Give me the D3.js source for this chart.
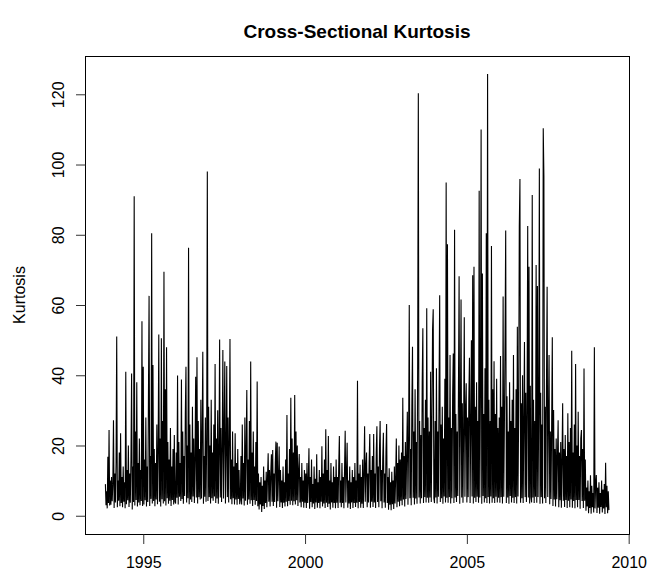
<!DOCTYPE html>
<html>
<head>
<meta charset="utf-8">
<title>Cross-Sectional Kurtosis</title>
<script src="https://cdn.jsdelivr.net/npm/d3@7"></script>
<style>
  body { margin: 0; background: #fff; }
  text { font-family: "Liberation Sans", Arial, Helvetica, sans-serif; fill: #000; }
</style>
</head>
<body>
<script>
// each list holds the readings for one calendar year (decimal-year start/end below)
var segStart = [1993.83, 1994, 1995, 1996, 1997, 1998, 1999, 2000, 2001, 2002, 2003, 2004, 2005, 2006, 2007, 2008, 2009];
var segEnd   = [1994, 1995, 1996, 1997, 1998, 1999, 2000, 2001, 2002, 2003, 2004, 2005, 2006, 2007, 2008, 2009, 2009.39];

var k1993 = [9, 3, 7, 2.1, 16.8, 3.6, 24.4, 2.9, 10];
var k1994 = [3.1, 11, 4.1, 9, 27.2, 2.2, 12, 3.8, 15, 51, 2.4, 10, 4.3, 18, 2.7, 23.5, 3.6, 11, 2.4, 14,
             4, 9.5, 2.1, 41, 3.3, 13, 4.4, 20, 2.5, 12, 3.7, 16, 40.5, 1.8, 14, 3.9, 91, 2.9, 24, 4.5,
             38, 2.6, 15, 3.8, 22, 3, 13, 4.2, 55.4, 2.8];
var k1995 = [42.4, 3.2, 16, 4.4, 28, 2.6, 14, 3.9, 33, 62.6, 2.8, 17, 4.8, 80.4, 3.5, 42.9, 4.2, 19, 2.7, 15,
             4.6, 26, 3.3, 18, 51.6, 4, 22, 2.6, 50.5, 4.7, 27, 3.5, 69.5, 4.1, 36, 2.9, 48, 5, 21, 3.4,
             16, 4.3, 25, 2.8, 14, 4.5, 19, 3.2, 23, 4];
var k1996 = [3.5, 18, 5.1, 39.9, 3.2, 21, 5.4, 15, 4.2, 38.8, 4.8, 24, 3.4, 17, 5.6, 29, 42.4, 3.8, 20, 5,
             76.3, 3.3, 26, 4.6, 18, 3.9, 31, 5.5, 22, 3.6, 16, 39.6, 5.2, 45.1, 3.5, 27, 5.3, 19, 4.6, 33,
             4.9, 23, 46.7, 3.4, 17, 5.4, 28, 4, 21, 98];
var k1997 = [4.2, 31, 5.3, 20, 3.5, 33, 5, 18, 4.3, 26, 5.5, 43.2, 3.6, 22, 4.9, 30, 3.4, 17, 50.2, 5.2,
             25, 3.9, 19, 47.2, 4.9, 23, 43.9, 3.5, 18, 42.6, 5.3, 28, 3.8, 21, 50.3, 4.7, 16, 3.3, 24, 5,
             14, 3.2, 23.5, 4.6, 15, 3.1, 19, 4.8, 13, 3.3];
var k1998 = [4.5, 17, 3.2, 26, 4.9, 15, 2.9, 28, 4.3, 19, 35.8, 3.1, 16, 4.6, 27, 3.4, 43.9, 4.4, 18, 2.8,
             24, 4.5, 14, 3.1, 21, 4.2, 38.2, 2.7, 12, 1.8, 9.5, 3.2, 11, 1.1, 8.5, 2.8, 14, 1.9, 10, 3.6,
             12.5, 2.4, 11, 17.8, 4, 13, 2.6, 12, 17.5, 4];
var k1999 = [18.7, 2.8, 12, 3.9, 15, 21.1, 2.3, 20.8, 4.1, 11, 19.7, 2.5, 13, 3.8, 10, 2.2, 14, 3.7, 9.5, 2.6,
             16, 4, 28.7, 2.7, 12, 4.2, 19, 3.1, 33.6, 4.3, 22, 3, 18, 4.1, 34.4, 3.2, 24, 4.4, 20, 2.8,
             13, 17.6, 3.8, 11, 2.4, 15, 4, 10, 2.3, 13];
var k2000 = [3.7, 12, 2.2, 15, 3.6, 10, 19.2, 2, 11, 3.9, 16, 2.4, 9, 3.5, 14, 1.9, 10.5, 3.8, 17.5, 2.3,
             9.5, 3.6, 13, 2.1, 11, 4, 19.8, 2.6, 12, 3.5, 16, 2.2, 24.6, 3.7, 13, 2.5, 22.7, 3.4, 10, 1.8,
             15, 3.8, 9.5, 2.3, 14, 3.6, 11, 2.1, 16, 3.7];
var k2001 = [11, 2.2, 14, 22.7, 3.7, 10, 2.4, 15, 3.6, 11, 2.1, 13, 24.2, 3.8, 12, 20.8, 2.3, 10, 3.5, 14,
             1.9, 9.5, 3.8, 13, 2.2, 11, 3.6, 15, 2.5, 10, 3.7, 38.4, 2.1, 12, 3.9, 14.5, 2.3, 11, 3.4, 16,
             2.2, 12, 25.5, 4, 14, 18, 2.4, 12, 3.8, 15];
var k2002 = [23.3, 2.3, 13, 4, 17, 2.5, 23.3, 3.8, 12, 2.2, 18, 25.5, 3.9, 14, 2.4, 19, 27, 4.1, 13, 2.1,
             16, 23.6, 3.8, 12, 2.3, 18, 26.1, 3.6, 11, 1.7, 13.5, 3.1, 9.5, 1.6, 12.5, 3.3, 10, 1.9, 14, 3.5,
             11, 22, 2.4, 15, 4, 20, 2.7, 16, 4.3, 18];
var k2003 = [3, 33.6, 4.6, 17, 2.6, 21, 4.8, 18, 29.6, 3.1, 22, 60, 5, 19, 3, 31, 48.1, 5.1, 24, 3.2,
             36, 4.9, 21, 3.4, 44, 120.3, 5.2, 27, 3.5, 23, 5, 38, 53.4, 3.6, 25, 5.3, 33, 3.8, 59.1, 5.1,
             28, 3.7, 24, 5.2, 41, 3.9, 26, 53.1, 58.8, 5];
var k2004 = [3.6, 27, 5.2, 42, 3.5, 24, 5.4, 35, 62.8, 3.9, 26, 5, 31, 3.4, 22, 5.5, 39, 3.8, 94.9, 5.1,
             77.3, 3.7, 28, 5.3, 45.8, 3.5, 25, 5, 34, 46.2, 3.6, 81.4, 5.2, 29, 3.9, 24, 5.6, 36, 68.2, 3.4,
             27, 61.6, 5.2, 32, 3.7, 25, 56.5, 5.4, 30, 37.7];
var k2005 = [3.8, 28, 5.3, 33, 45, 3.6, 26, 50, 5.5, 68.5, 3.5, 70.9, 5.1, 31, 3.9, 38, 5.4, 27, 3.7, 92.5,
             5.2, 35, 110, 3.4, 69, 5.6, 29, 3.8, 42, 5, 80.4, 3.6, 125.8, 5.3, 33, 3.5, 27, 5.5, 76.8, 3.7,
             36, 5, 44, 3.6, 29, 5.4, 39, 3.8, 25, 5.1];
var k2006 = [28, 3.7, 45.5, 5.3, 31, 3.5, 62.4, 5.4, 26, 50, 81.2, 3.6, 34, 5.2, 24, 3.4, 38, 5.6, 27, 3.8,
             33, 5.1, 45.8, 3.6, 25, 5.3, 36, 3.5, 53.8, 5.5, 29, 82.3, 95.9, 3.7, 32, 5, 40, 3.6, 27, 49.5,
             5.3, 35, 3.9, 30, 82.5, 5.2, 70.9, 3.5, 37, 5.4];
var k2007 = [3.8, 91.3, 5.2, 33, 3.6, 27, 5.4, 71.4, 3.7, 65.4, 5.3, 29, 98.9, 3.4, 35, 5.3, 26, 3.5, 110.3, 96.7,
             5, 31, 3.6, 37, 65.2, 5.3, 28, 45.8, 3.3, 24, 4.8, 26, 50.8, 2.8, 30.1, 4.6, 19, 2.6, 22, 4.7,
             17, 27.2, 2.4, 18, 4.4, 21, 2.3, 16, 32, 4.3];
var k2008 = [19, 2.5, 23, 4.5, 17, 2.2, 29.2, 4.3, 21, 2.4, 25, 4.6, 47, 2.3, 18, 4.2, 26, 2.1, 43.2, 4.5,
             20, 2.4, 29.6, 4.5, 17, 2, 22, 24.4, 4.2, 19, 2.2, 41.9, 4.3, 16, 1.4, 8, 2.6, 10, 0.7, 7,
             2.2, 11.5, 0.6, 8.5, 2.4, 6.5, 0.9, 48, 2.1, 9];
var k2009 = [11.6, 0.8, 8, 2.3, 9.5, 0.6, 6.5, 2.5, 10, 0.9, 7.5, 2.1, 9, 0.5, 15.1, 2.4, 8.5, 0.7, 7, 1.6];

var segments = [k1993, k1994, k1995, k1996, k1997, k1998, k1999, k2000, k2001, k2002,
                k2003, k2004, k2005, k2006, k2007, k2008, k2009];

var xTicks = [1995, 2000, 2005, 2010];
var yTicks = [0, 20, 40, 60, 80, 100, 120];

var W = 651, H = 575;
var plotL = 85, plotR = 629, plotT = 56, plotB = 534;

// spread each year's readings evenly through that year
var series = [];
segments.forEach(function(vals, s) {
  var n = (s == segments.length - 1) ? vals.length - 1 : vals.length;
  vals.forEach(function(v, j) {
    series.push({ t: segStart[s] + (segEnd[s] - segStart[s]) * j / n, v: v });
  });
});

var x = d3.scaleLinear().domain([1993.2, 2010.01]).range([plotL, plotR]);
var y = d3.scaleLinear().domain([-5.2, 130.9]).range([plotB, plotT]);

var svg = d3.select("body").append("svg").attr("width", W).attr("height", H);

var line = d3.line().x(function(d) { return x(d.t); }).y(function(d) { return y(d.v); });

svg.append("path")
  .datum(series)
  .attr("d", line)
  .attr("fill", "none")
  .attr("stroke", "#000")
  .attr("stroke-width", 1.1)
  .attr("stroke-linejoin", "miter");

// box round the plot
svg.append("rect")
  .attr("x", plotL + 0.5).attr("y", plotT + 0.5)
  .attr("width", plotR - plotL).attr("height", plotB - plotT)
  .attr("fill", "none").attr("stroke", "#000").attr("stroke-width", 1);

var xAxis = svg.append("g")
  .attr("transform", "translate(0," + (plotB + 0.5) + ")")
  .call(d3.axisBottom(x).tickValues(xTicks).tickSize(9.5).tickSizeOuter(0).tickFormat(d3.format("d")));
xAxis.select(".domain").remove();
xAxis.selectAll("line").attr("stroke", "#333");
xAxis.selectAll("text").attr("y", 33).attr("dy", 0).style("font-size", "16px");

var yAxis = svg.append("g")
  .attr("transform", "translate(" + (plotL + 0.5) + ",0)")
  .call(d3.axisLeft(y).tickValues(yTicks).tickSize(9.5).tickSizeOuter(0));
yAxis.select(".domain").remove();
yAxis.selectAll("line").attr("stroke", "#333");
yAxis.selectAll("text")
  .attr("x", 0).attr("y", -22).attr("dy", 0)
  .attr("transform", "rotate(-90)")
  .attr("text-anchor", "middle")
  .style("font-size", "16px");

svg.append("text")
  .attr("transform", "translate(25," + ((plotT + plotB) / 2) + ") rotate(-90)")
  .attr("text-anchor", "middle")
  .style("font-size", "16px")
  .text("Kurtosis");

svg.append("text")
  .attr("x", (plotL + plotR) / 2).attr("y", 38)
  .attr("text-anchor", "middle")
  .style("font-size", "19px").style("font-weight", "bold")
  .text("Cross-Sectional Kurtosis");
</script>
</body>
</html>
